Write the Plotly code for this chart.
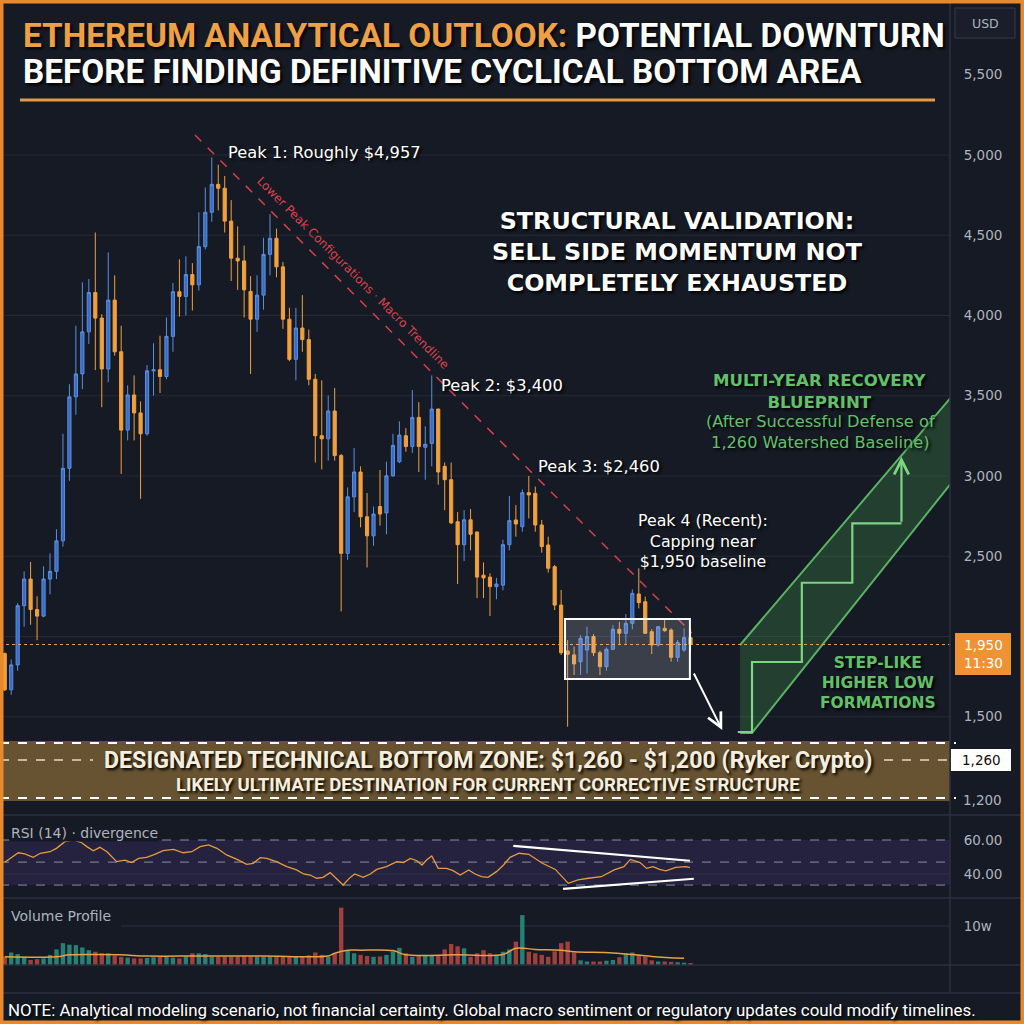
import plotly.graph_objects as go

# ---------------- data ----------------
candle_open = [1894,1668,1823,2192,2358,2168,2127,2358,2406,2596,3048,3493,3636,3898,4143,3984,3667,4096,3774,3286,
               3505,3393,3263,3655,3662,3620,3870,4148,4119,4255,4191,4429,4643,4817,4793,4588,4357,4340,4150,3977,
               4127,4381,4481,4303,3977,3727,3922,3850,3603,3251,3232,3405,3127,2518,2870,3025,2746,2627,2810,2770,
               3001,3089,3251,3184,3365,3179,3203,3417,3060,2977,2715,2572,2727,2651,2382,2370,2311,2320,2572,2726,
               2684,2896,2892,2695,2570,2435,2196,1910,1885,1843,1916,2000,1899,1812,1920,2045,2020,2082,2265,2217,
               2030,1947,2051,2040,1870,1916,1993]
candle_high = [1900,1858,2208,2406,2465,2251,2437,2518,2668,3263,3572,3936,4207,4227,4517,4008,4393,4250,3936,3565,
               3627,3465,3691,3827,3874,3988,4203,4350,4369,4326,4643,4798,4985,4940,4869,4719,4555,4436,4245,4250,
               4484,4631,4541,4334,4048,4048,4127,3912,3636,3596,3501,3548,3137,2929,3175,3060,2894,2810,3037,3089,
               3263,3341,3298,3536,3460,3310,3627,3420,3084,3084,2775,2787,2794,2655,2461,2394,2365,2603,2875,2819,
               2917,3000,2934,2726,2622,2446,2290,1978,1937,2009,2061,2015,1912,1932,2072,2092,2140,2294,2425,2248,
               2045,2065,2113,2051,1978,2051,2051]
candle_low = [1660,1637,1787,2061,2073,1977,2120,2263,2358,2560,2970,3382,3541,3822,3660,3429,3584,3750,3013,3222,
              3222,2858,3251,3501,3517,3603,3774,3993,4000,4031,4155,4412,4584,4655,4517,4215,4160,3988,3636,3898,
              4036,4250,4238,3917,3715,3596,3774,3565,3084,3041,3096,3096,2156,2477,2775,2680,2430,2565,2691,2637,
              2995,3080,3151,3144,3025,2977,3060,2946,2787,2700,2327,2470,2537,2239,2239,2127,2232,2287,2537,2622,
              2653,2736,2653,2522,2398,2165,1885,1438,1760,1760,1770,1878,1760,1787,1916,1947,1947,2045,2175,2015,
              1891,1937,2030,1843,1843,1905,1899]
candle_close = [1668,1823,2192,2358,2168,2127,2358,2406,2596,3048,3493,3636,3898,4143,3984,3667,4096,3774,3286,3505,
                3393,3263,3655,3662,3620,3870,4148,4119,4255,4191,4429,4643,4817,4793,4588,4357,4340,4160,3977,4127,
                4381,4481,4303,3977,3727,3922,3850,3603,3251,3232,3405,3127,2518,2870,3025,2746,2627,2763,2763,3001,
                3191,3255,3184,3365,3184,3198,3417,3025,2977,2708,2572,2727,2637,2370,2365,2311,2327,2572,2722,2701,
                2896,2882,2695,2560,2425,2196,1899,1889,1829,1989,2000,1899,1812,1920,2045,2020,2082,2269,2211,2020,
                1947,2061,2036,1870,1962,1993,1950]
candle_idx = list(range(len(candle_close)))

volume_k = [21,32,28,21,13,15,17,26,40,56,52,51,45,38,34,30,30,24,21,19,
            17,17,18,20,21,21,19,17,22,30,30,28,21,21,21,21,21,22,22,21,
            21,21,21,21,21,21,21,25,32,26,21,30,147,38,30,26,23,21,22,26,
            35,44,30,21,24,26,26,26,40,54,48,43,21,30,38,30,26,34,40,60,
            128,34,30,26,21,35,56,60,32,12,9,9,9,11,13,20,30,32,26,21,
            12,9,9,8,7,6,5]
vol_ma_idx = [0, 8, 10, 14, 18, 22, 30, 40, 50, 51, 53, 55, 60, 62, 70, 77, 79, 82, 86, 88, 94, 100, 105]
vol_ma_k = [21, 21, 26, 27, 26, 23, 23, 23, 23, 30, 38, 38, 37, 26, 26, 27, 43, 40, 38, 34, 31, 22, 17]

rsi_idx = [0,0.8,2.1,3.1,4.4,5.5,7,8,9.3,10.6,11.9,12.7,13.7,14.7,15.8,17.3,18.6,19.6,20.7,21.9,23,24.5,26.1,27.6,
           28.9,30.2,31.5,32.8,34.3,35.9,37.4,38.4,39.5,40.5,42,43.6,45.1,46.2,47.2,48.2,49.2,50.3,51.3,52.3,53.4,
           54.1,55.4,56.5,57.5,59,60.6,61.6,62.7,63.7,64.5,65.2,66,67,68.3,69.3,70.4,71.7,72.7,73.7,74.7,76,77.1,
           78.1,79.5,81,83.1,85.1,87.1,88.6,90.2,92.2,94.2,95.7,96.7,98.2,99.2,100.2,101.2,102.2,103.7,105.3,105.9]
rsi_val = [46.9,49.2,52.5,51.8,49.8,52.2,53.1,55.1,59.0,60.0,58.4,56.1,53.7,55.7,53.1,47.3,48.2,46.7,49.2,49.8,51.2,
           53.7,54.5,52.5,53.1,56.1,57.1,55.1,51.2,48.6,45.7,46.3,49.6,49.2,47.3,44.3,42.4,40.0,39.4,37.5,38.0,40.8,
           36.9,33.5,38.0,40.0,38.0,40.0,42.7,44.3,47.3,46.7,49.2,47.8,45.3,48.2,50.6,43.3,43.3,42.0,39.4,42.4,40.0,
           38.4,38.0,41.4,45.3,49.8,52.2,51.6,46.3,42.7,34.5,36.5,37.5,38.4,42.4,44.3,48.6,46.7,43.3,44.3,42.7,41.9,
           43.9,44.3,43.7]
rsi_upper_div_x = [78.6, 105.9]
rsi_upper_div_y = [56.6, 47.8]
rsi_lower_div_x = [86.3, 106.5]
rsi_lower_div_y = [31.2, 37.2]

price_ticks = [1500, 2500, 3000, 3500, 4000, 4500, 5000, 5500]
price_grid = [1500, 2000, 2500, 3000, 3500, 4000, 4500, 5000]
last_price = 1950

trend_x = [29.4, 106.2]
trend_y = [5125, 2022]
box_x = [86.6, 105.9]
box_y = [1735, 2109]
channel_x = [113.65, 146.3, 146.3, 115.5, 113.65]
channel_y = [1947, 3492, 2956, 1399, 1399]
steps_x = [113.3, 115.5, 115.5, 123.2, 123.2, 131.0, 131.0, 138.6]
steps_y = [1405, 1405, 1841, 1841, 2335, 2335, 2705, 2705]
steps_arrow_top = 3120

# ---------------- style ----------------
W = H = 1024
BG = "#151a24"
GRID = "#242a37"
SEP = "#2b3140"
AX_TXT = "#aeb3bf"
ORANGE = "#f2a03d"
BLUE_F = "#3c6cc2"
BLUE_L = "#5b8fe0"
GREEN = "#62c069"
COND = "Roboto, Lato, sans-serif"
DJ = "DejaVu Sans, Verdana, sans-serif"
XR = [-0.73, 146.1]
XD = [0, 950 / W]


def pxx(x):
    return x / W


def pxy(y):
    return 1 - y / H


fig = go.Figure()

fig.add_trace(go.Candlestick(
    x=candle_idx, open=candle_open, high=candle_high, low=candle_low, close=candle_close,
    increasing=dict(line=dict(color=BLUE_L, width=1), fillcolor=BLUE_F),
    decreasing=dict(line=dict(color=ORANGE, width=1), fillcolor=ORANGE),
    whiskerwidth=0, showlegend=False, hoverinfo="skip", xaxis="x", yaxis="y"))

fig.add_trace(go.Scatter(x=trend_x, y=trend_y, mode="lines", line=dict(color="#d8404e", width=1.5, dash="dash"),
                         showlegend=False, hoverinfo="skip", xaxis="x", yaxis="y"))
fig.add_trace(go.Scatter(x=channel_x, y=channel_y, mode="lines", fill="toself",
                         fillcolor="rgba(70,160,80,0.28)", line=dict(color="rgba(98,192,105,0.9)", width=2),
                         showlegend=False, hoverinfo="skip", xaxis="x", yaxis="y"))
fig.add_trace(go.Scatter(x=steps_x, y=steps_y, mode="lines", line=dict(color="#7ed485", width=2.2),
                         showlegend=False, hoverinfo="skip", xaxis="x", yaxis="y"))

fig.add_trace(go.Scatter(x=rsi_idx, y=rsi_val, mode="lines", line=dict(color="#e89b3c", width=1.3),
                         showlegend=False, hoverinfo="skip", xaxis="x2", yaxis="y2"))
for dx, dy in ((rsi_upper_div_x, rsi_upper_div_y), (rsi_lower_div_x, rsi_lower_div_y)):
    fig.add_trace(go.Scatter(x=dx, y=dy, mode="lines", line=dict(color="white", width=2.2),
                             showlegend=False, hoverinfo="skip", xaxis="x2", yaxis="y2"))

vol_colors = ["#2a8c7f" if c >= o else "#b0453f" for o, c in zip(candle_open, candle_close)]
fig.add_trace(go.Bar(x=candle_idx, y=volume_k, marker=dict(color=vol_colors, line=dict(width=0)), width=0.68,
                     opacity=0.9, showlegend=False, hoverinfo="skip", xaxis="x3", yaxis="y3"))
fig.add_trace(go.Scatter(x=vol_ma_idx, y=vol_ma_k, mode="lines", line=dict(color="#e8a040", width=1.5, shape="spline"),
                         showlegend=False, hoverinfo="skip", xaxis="x3", yaxis="y3"))

shapes = []
for g in price_grid:
    shapes.append(dict(type="line", xref="x domain", yref="y", x0=0, x1=1, y0=g, y1=g,
                       line=dict(color=GRID, width=1), layer="below"))
shapes.append(dict(type="line", xref="x domain", yref="y", x0=0, x1=1, y0=last_price, y1=last_price,
                   line=dict(color=ORANGE, width=1, dash="dot")))
shapes.append(dict(type="rect", xref="x", yref="y", x0=box_x[0], x1=box_x[1], y0=box_y[0], y1=box_y[1],
                   fillcolor="rgba(190,195,210,0.22)", line=dict(color="white", width=2)))
shapes.append(dict(type="rect", xref="paper", yref="paper", x0=0, x1=pxx(950), y0=pxy(801), y1=pxy(741),
                   fillcolor="#6b5634", line=dict(width=0), opacity=0.95))
for yy in (743, 798):
    shapes.append(dict(type="line", xref="paper", yref="paper", x0=0, x1=pxx(956), y0=pxy(yy), y1=pxy(yy),
                       line=dict(color="white", width=2.2, dash="dash")))
for xa, xb in ((0, 93), (884, 950)):
    shapes.append(dict(type="line", xref="paper", yref="paper", x0=pxx(xa), x1=pxx(xb), y0=pxy(760), y1=pxy(760),
                       line=dict(color="#e8dcc0", width=1.5, dash="dash")))
shapes.append(dict(type="line", xref="paper", yref="paper", x0=pxx(20), x1=pxx(935), y0=pxy(100), y1=pxy(100),
                   line=dict(color="#e39a45", width=3)))
shapes.append(dict(type="rect", xref="x2 domain", yref="y2", x0=0, x1=1, y0=33.5, y1=60,
                   fillcolor="rgba(100,72,170,0.20)", line=dict(width=0), layer="below"))
shapes.append(dict(type="line", xref="x2 domain", yref="y2", x0=0, x1=1, y0=40, y1=40,
                   line=dict(color="#2e3347", width=1), layer="below"))
for lv in (60, 47, 33.5):
    shapes.append(dict(type="line", xref="x2 domain", yref="y2", x0=0, x1=1, y0=lv, y1=lv,
                       line=dict(color="#8a8fa0", width=1, dash="dash"), layer="below"))
shapes.append(dict(type="line", xref="paper", yref="y3", x0=pxx(121), x1=pxx(950), y0=100, y1=100,
                   line=dict(color=SEP, width=1), layer="below"))
for yy in (815, 898, 965, 993):
    shapes.append(dict(type="line", xref="paper", yref="paper", x0=0, x1=1, y0=pxy(yy), y1=pxy(yy),
                       line=dict(color=SEP, width=1.5)))
shapes.append(dict(type="line", xref="paper", yref="paper", x0=pxx(950), x1=pxx(950), y0=pxy(993), y1=1,
                   line=dict(color=SEP, width=1.5)))
shapes.append(dict(type="rect", xref="paper", yref="paper", x0=pxx(955), x1=pxx(1015), y0=pxy(38), y1=pxy(8),
                   line=dict(color="#343a49", width=1), fillcolor="#191e2a"))
shapes.append(dict(type="rect", xref="paper", yref="paper", x0=pxx(955), x1=pxx(1011), y0=pxy(675), y1=pxy(633),
                   fillcolor="#ef9236", line=dict(width=0)))
shapes.append(dict(type="rect", xref="paper", yref="paper", x0=pxx(951), x1=pxx(1011), y0=pxy(771), y1=pxy(749),
                   fillcolor="white", line=dict(width=0)))
shapes.append(dict(type="rect", xref="paper", yref="paper", x0=0, x1=1, y0=0, y1=1,
                   line=dict(color="#e8892c", width=7), fillcolor="rgba(0,0,0,0)"))

ann = []
SH = "2px 2px 3px #000"


def text(x, y, s, size, color="white", family=DJ, anchor="left", bold=False, bg=None, angle=0, shadow=True):
    d = dict(xref="paper", yref="paper", x=pxx(x), y=pxy(y), text=s, borderpad=0,
             showarrow=False, xanchor=anchor, yanchor="middle", textangle=angle, align=anchor,
             font=dict(size=size, color=color, family=family, weight="bold" if bold else "normal",
                       shadow=SH if shadow else "none"))
    if bg:
        d["bgcolor"] = bg
    ann.append(d)


text(22, 35, "<span style='color:#f0a044'>ETHEREUM ANALYTICAL OUTLOOK:</span> POTENTIAL DOWNTURN", 33.3,
     family=COND, bold=True)
text(22, 71, "BEFORE FINDING DEFINITIVE CYCLICAL BOTTOM AREA", 33.3, family=COND, bold=True)

text(227, 152, "Peak 1: Roughly $4,957", 16.3)
text(440, 385, "Peak 2: $3,400", 16.3)
text(537, 466, "Peak 3: $2,460", 16.3)
text(703, 541, "Peak 4 (Recent):<br>Capping near<br>$1,950 baseline", 15.8, anchor="center")
text(353, 273, "Lower Peak Configurations · Macro Trendline", 12, color="#d9434e", anchor="center", angle=45,
     shadow=False)

text(677, 252, "STRUCTURAL VALIDATION:<br>SELL SIDE MOMENTUM NOT<br>COMPLETELY EXHAUSTED", 23.8, anchor="center",
     bold=True)

text(820, 391, "MULTI-YEAR RECOVERY<br>BLUEPRINT", 16.6, color=GREEN, anchor="center", bold=True)
text(820, 432, "(After Successful Defense of<br>1,260 Watershed Baseline)", 16.2, color=GREEN, anchor="center")

text(878, 683, "STEP-LIKE<br>HIGHER LOW<br>FORMATIONS", 15.5, color=GREEN, anchor="center", bold=True)

text(488, 759.5, "DESIGNATED TECHNICAL BOTTOM ZONE: $1,260 - $1,200 (Ryker Crypto)", 23.2, color="#f6eedc",
     family=COND, anchor="center", bold=True)
text(488, 784.5, "LIKELY ULTIMATE DESTINATION FOR CURRENT CORRECTIVE STRUCTURE", 18.6, color="#f6eedc",
     family=COND, anchor="center", bold=True)

text(10, 833, "RSI (14) · divergence", 14, color=AX_TXT, bg=BG, shadow=False)
text(10, 916, "Volume Profile", 14, color=AX_TXT, bg=BG, shadow=False)
text(7, 1010, "NOTE: Analytical modeling scenario, not financial certainty. Global macro sentiment or regulatory updates could modify timelines.",
     16.9, family=COND)

text(985, 23, "USD", 12.5, color=AX_TXT, anchor="center", shadow=False)
text(983, 654, "1,950<br>11:30", 13.5, color="white", anchor="center", shadow=False)
text(981, 760, "1,260", 13.5, color="#111111", anchor="center", shadow=False)
text(962, 800, "1,200", 13.5, color=AX_TXT, shadow=False)

ann.append(dict(xref="x", yref="y", axref="x", ayref="y", x=110.9, y=1417, ax=106.4, ay=1779, text="",
                showarrow=True, arrowhead=5, arrowsize=1.4, arrowwidth=2, arrowcolor="white"))
ann.append(dict(xref="x", yref="y", axref="x", ayref="y", x=steps_x[-1], y=steps_arrow_top, ax=steps_x[-1],
                ay=steps_y[-1], text="", showarrow=True, arrowhead=5, arrowsize=1.3, arrowwidth=2.2,
                arrowcolor="#7ed485"))

axis_common = dict(showgrid=False, zeroline=False, showline=False)
tickfont = dict(size=13.5, color=AX_TXT, family=DJ)
fig.update_layout(
    width=W, height=H, margin=dict(l=0, r=0, t=0, b=0),
    paper_bgcolor=BG, plot_bgcolor=BG, showlegend=False, hovermode=False,
    xaxis=dict(domain=XD, range=XR, visible=False, rangeslider=dict(visible=False), **axis_common),
    xaxis2=dict(domain=XD, range=XR, visible=False, anchor="y2", matches="x", **axis_common),
    xaxis3=dict(domain=XD, range=XR, visible=False, anchor="y3", matches="x", **axis_common),
    yaxis=dict(domain=[1 - 815 / H, 1], range=[887.9, 5965.7], side="right", anchor="x",
               tickvals=price_ticks, ticktext=["{:,}".format(v) for v in price_ticks],
               ticks="outside", ticklen=10, tickcolor=BG, tickfont=tickfont, **axis_common),
    yaxis2=dict(domain=[1 - 898 / H, 1 - 815 / H], range=[25.88, 74.71], side="right", anchor="x2",
                tickvals=[60, 40], ticktext=["60.00", "40.00"], ticks="outside", ticklen=10, tickcolor=BG,
                tickfont=tickfont, **axis_common),
    yaxis3=dict(domain=[1 - 965 / H, 1 - 898 / H], range=[0, 171.8], side="right", anchor="x3",
                tickvals=[100], ticktext=["10w"], ticks="outside", ticklen=10, tickcolor=BG,
                tickfont=tickfont, **axis_common),
    shapes=shapes, annotations=ann,
)

fig.write_html("out.html")
